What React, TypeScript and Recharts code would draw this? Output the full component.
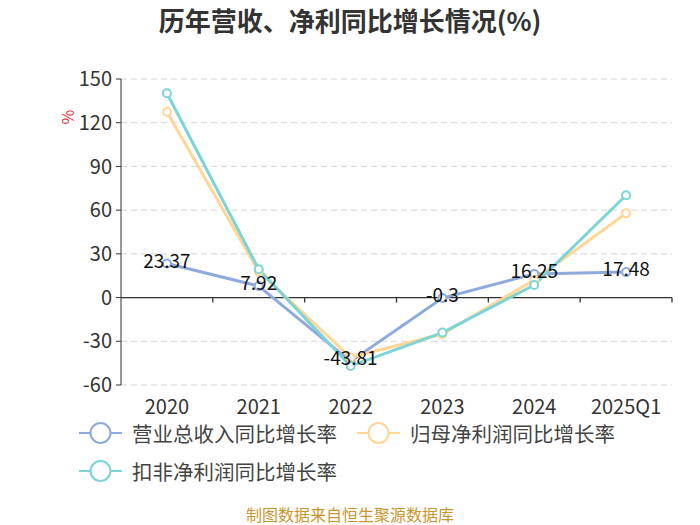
import { CartesianGrid, Legend, LabelList, Line, LineChart, ReferenceLine, XAxis, YAxis } from "recharts";

const years = ["2020", "2021", "2022", "2023", "2024", "2025Q1"];
const revenueGrowth = [23.37, 7.92, -43.81, -0.3, 16.25, 17.48];
const netProfitGrowth = [127.4, 17.8, -41.0, -25.0, 12.0, 57.8];
const deductedProfitGrowth = [140.2, 19.4, -47.0, -24.0, 8.6, 70.2];
const seriesNames = ["营业总收入同比增长率", "归母净利润同比增长率", "扣非净利润同比增长率"];
const yTicks = [-60, -30, 0, 30, 60, 90, 120, 150];

const data = years.map((year, i) => ({
  year,
  revenue: revenueGrowth[i],
  netProfit: netProfitGrowth[i],
  deducted: deductedProfitGrowth[i],
}));

const FONT = '"Noto Sans CJK SC", "Noto Sans", sans-serif';
const BLUE = "#8eaadc";
const ORANGE = "#ffd695";
const TEAL = "#7dd4d6";

function ZeroAxis(props: any) {
  const { x1, x2, y1 } = props;
  const step = (x2 - x1) / years.length;
  return (
    <g>
      <line x1={x1} x2={x2} y1={y1} y2={y1} stroke="#333" strokeWidth={1.3} />
      {years.map((_, i) => (
        <line key={i} x1={x1 + step * (i + 1)} x2={x1 + step * (i + 1)} y1={y1} y2={y1 + 5} stroke="#333" strokeWidth={1.3} />
      ))}
    </g>
  );
}

function ValueLabel(props: any) {
  const { x, y, value } = props;
  return (
    <text x={x} y={y + 4} textAnchor="middle" fontSize={19} fill="#111" fontFamily={FONT}>
      {value}
    </text>
  );
}

function LegendContent(props: any) {
  const items = (props.payload || [])
    .filter((p: any) => seriesNames.includes(p.value))
    .sort((a: any, b: any) => seriesNames.indexOf(a.value) - seriesNames.indexOf(b.value));
  return (
    <div style={{ display: "flex", flexWrap: "wrap", width: 600, rowGap: 12, columnGap: 20, fontFamily: FONT }}>
      {items.map((p: any) => (
        <div key={p.value} style={{ display: "flex", alignItems: "center", height: 26 }}>
          <svg width={43} height={24} style={{ marginRight: 10 }}>
            <line x1={0} x2={43} y1={12} y2={12} stroke={p.color} strokeWidth={2} />
            <circle cx={21.5} cy={12} r={10} fill="#fff" stroke={p.color} strokeWidth={2} />
          </svg>
          <span style={{ fontSize: 20.5, color: "#444" }}>{p.value}</span>
        </div>
      ))}
    </div>
  );
}

export default function App() {
  return (
    <div style={{ position: "absolute", left: 0, top: 0, width: 700, height: 525, background: "#fff", fontFamily: FONT }}>
      <div style={{ position: "absolute", top: 1, width: 700, textAlign: "center", fontSize: 26, fontWeight: 700, color: "#333" }}>
        历年营收、净利同比增长情况(%)
      </div>
      <LineChart width={700} height={525} data={data} margin={{ top: 79, right: 28, left: 0, bottom: 110 }}>
        <CartesianGrid vertical={false} stroke="#d4d4d4" strokeDasharray="6 4" />
        <XAxis
          dataKey="year"
          scale="band"
          axisLine={false}
          tickLine={false}
          height={30}
          tickSize={6}
          tickMargin={9}
          tick={{ fontSize: 20, fill: "#333", fontFamily: FONT }}
        />
        <YAxis
          width={121}
          domain={[-60, 150]}
          ticks={yTicks}
          interval={0}
          stroke="#333"
          tickSize={5}
          tickMargin={4}
          tick={{ fontSize: 20, fill: "#333", fontFamily: FONT }}
          label={() => (
            <text
              x={67}
              y={117}
              transform="rotate(-90 67 117)"
              textAnchor="middle"
              dominantBaseline="central"
              fontSize={16}
              fill="#e8333a"
              fontFamily={FONT}
            >
              %
            </text>
          )}
        />
        <ReferenceLine y={0} shape={ZeroAxis} />
        <Line
          name={seriesNames[0]}
          dataKey="revenue"
          stroke={BLUE}
          strokeWidth={3}
          dot={{ r: 4, fill: "#fff", stroke: BLUE, strokeWidth: 2 }}
          isAnimationActive={false}
        />
        <Line
          name={seriesNames[1]}
          dataKey="netProfit"
          stroke={ORANGE}
          strokeWidth={3}
          dot={{ r: 4, fill: "#fff", stroke: ORANGE, strokeWidth: 2 }}
          isAnimationActive={false}
        />
        <Line
          name={seriesNames[2]}
          dataKey="deducted"
          stroke={TEAL}
          strokeWidth={3}
          dot={{ r: 4, fill: "#fff", stroke: TEAL, strokeWidth: 2 }}
          isAnimationActive={false}
        />
        <Line dataKey="revenue" stroke="none" dot={false} activeDot={false} legendType="none" isAnimationActive={false}>
          <LabelList dataKey="revenue" content={ValueLabel} />
        </Line>
        <Legend
          layout="horizontal"
          verticalAlign="middle"
          align="center"
          content={LegendContent}
          wrapperStyle={{ top: 420, left: 79, width: 600 }}
        />
      </LineChart>
      <div style={{ position: "absolute", top: 506, width: 700, textAlign: "center", fontSize: 16, lineHeight: "17px", color: "#c8962e" }}>
        制图数据来自恒生聚源数据库
      </div>
    </div>
  );
}
